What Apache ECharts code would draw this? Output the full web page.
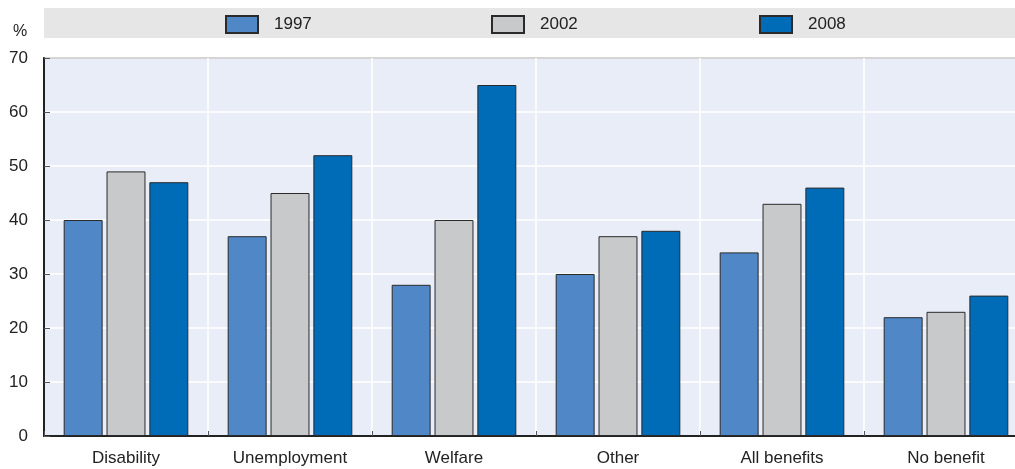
<!DOCTYPE html>
<html>
<head>
<meta charset="utf-8">
<script src="https://cdn.jsdelivr.net/npm/echarts@6/dist/echarts.min.js"></script>
<style>
html,body{margin:0;padding:0;background:#fff;overflow:hidden;width:1015px;height:469px;}
#c{width:1028px;height:469px;}
</style>
</head>
<body>
<div id="c"></div>
<script>
var categories = ['Disability', 'Unemployment', 'Welfare', 'Other', 'All benefits', 'No benefit'];
var seriesNames = ['1997', '2002', '2008'];
var values1997 = [40, 37, 28, 30, 34, 22];
var values2002 = [49, 45, 40, 37, 43, 23];
var values2008 = [47, 52, 65, 38, 46, 26];
var yTicks = [0, 10, 20, 30, 40, 50, 60, 70];

var colors = ['#4F87C7', '#C8C9CB', '#006BB6'];
var allValues = [values1997, values2002, values2008];
var FONT = "'Liberation Sans', Arial, sans-serif";

var chart = echarts.init(document.getElementById('c'), null, {renderer: 'canvas'});

var series = seriesNames.map(function (n, i) {
  return {
    name: n,
    type: 'bar',
    data: allValues[i],
    barGap: '10%',
    barCategoryGap: '24%',
    itemStyle: {color: colors[i], borderColor: '#2a2a2a', borderWidth: 1},
    emphasis: {disabled: true},
    animation: false
  };
});

var legendLefts = [225, 491, 759];
var legends = seriesNames.map(function (n, i) {
  return {
    data: [n],
    left: legendLefts[i],
    top: 15,
    icon: 'rect',
    itemWidth: 32,
    itemHeight: 17,
    padding: 0,
    selectedMode: false,
    textStyle: {fontFamily: FONT, fontSize: 17, color: '#222', padding: [0, 0, 0, 11]}
  };
});

chart.setOption({
  animation: false,
  legend: legends,
  graphic: [
    {type: 'rect', left: 44, top: 8, shape: {width: 990, height: 30}, style: {fill: '#E6E6E6'}, z: -10, silent: true},
    {type: 'text', left: 13, top: 24, style: {text: '%', font: '16px ' + FONT, fill: '#222'}}
  ],
  grid: {
    left: 44, right: 0, top: 58, bottom: 33,
    show: true, backgroundColor: '#E9EDF7', borderColor: '#222', borderWidth: 1.5,
    containLabel: false
  },
  xAxis: {
    type: 'category',
    data: categories,
    axisLine: {show: true, lineStyle: {color: '#222', width: 2}},
    axisTick: {show: true, inside: true, length: 5, lineStyle: {color: '#555'}},
    splitLine: {show: true, lineStyle: {color: '#ffffff', width: 1.5}},
    axisLabel: {fontFamily: FONT, fontSize: 17, color: '#222', margin: 14}
  },
  yAxis: {
    type: 'value',
    min: yTicks[0], max: yTicks[yTicks.length - 1], interval: 10,
    axisLine: {show: true, lineStyle: {color: '#222', width: 2}},
    axisTick: {show: true, inside: true, length: 6, lineStyle: {color: '#555'}},
    splitLine: {show: true, lineStyle: {color: '#ffffff', width: 1.5}},
    axisLabel: {fontFamily: FONT, fontSize: 17, color: '#222', margin: 16}
  },
  series: series
});
</script>
</body>
</html>
